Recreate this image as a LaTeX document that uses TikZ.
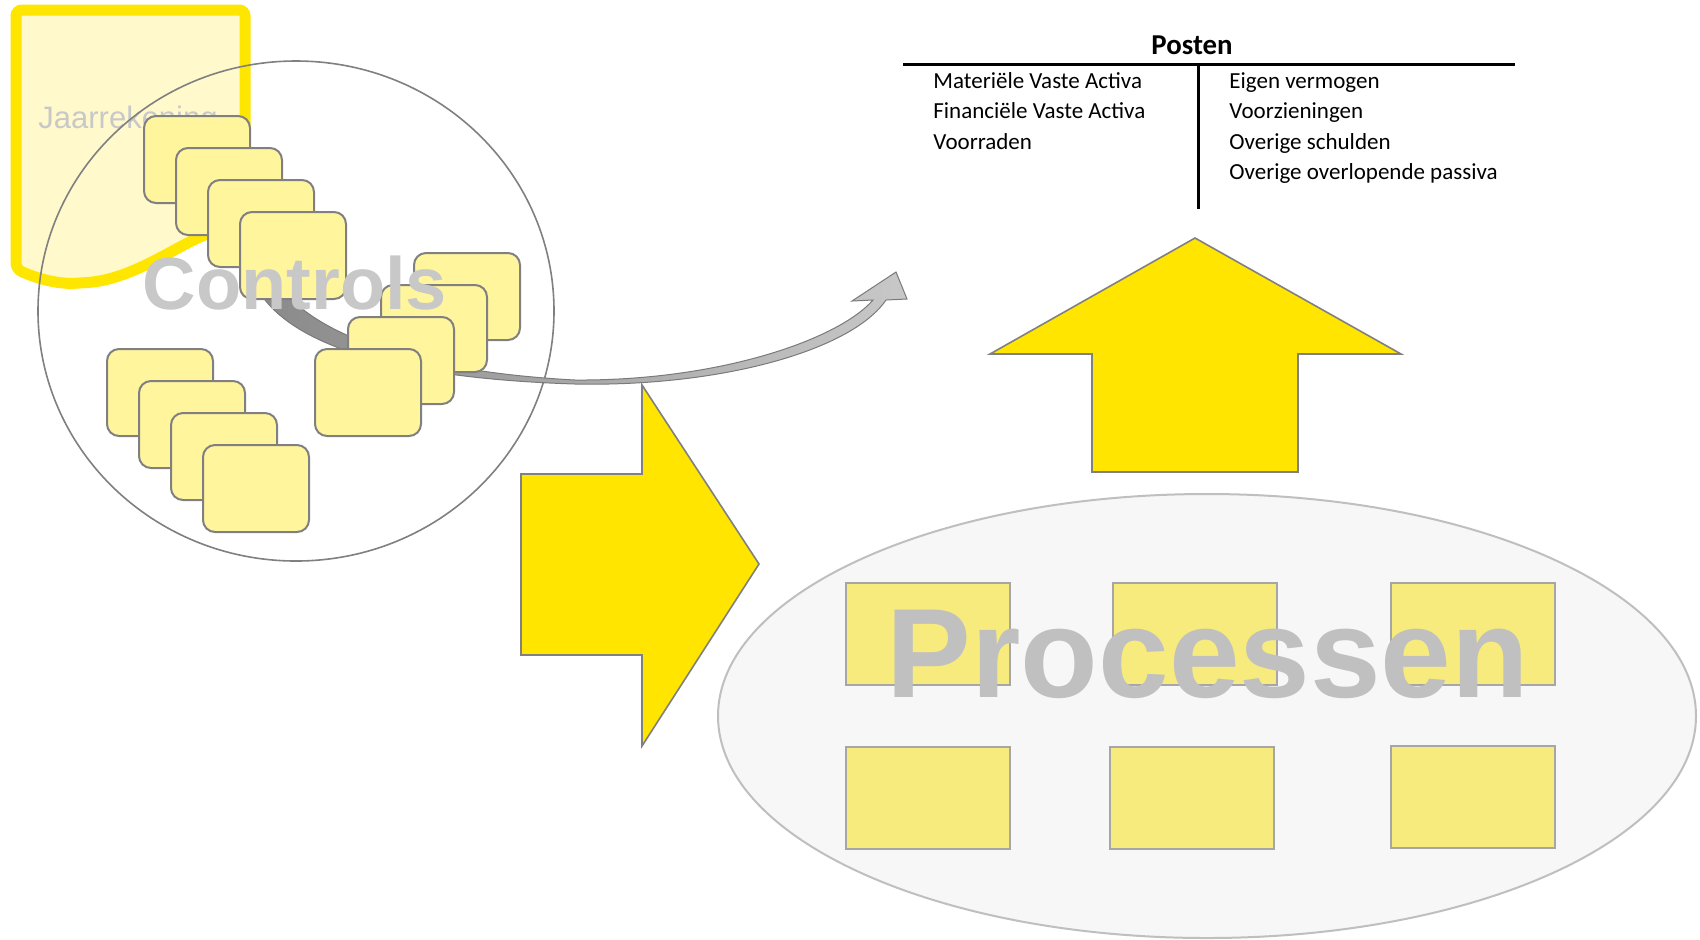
\documentclass[tikz,border=0pt]{standalone}
\usepackage{fontspec}
\setmainfont{Liberation Sans}
\newfontfamily\calfont{Carlito}
\definecolor{docyellow}{HTML}{FFE600}
\definecolor{docfill}{HTML}{FFF9CC}
\definecolor{boxfill}{HTML}{FFF59D}
\definecolor{boxline}{HTML}{808080}
\definecolor{bigyellow}{HTML}{FFE500}
\definecolor{procfill}{HTML}{F7EB7E}
\definecolor{procline}{HTML}{A6A6A6}
\definecolor{ellfill}{HTML}{F7F7F7}
\definecolor{ellline}{HTML}{BFBFBF}
\definecolor{bigtext}{HTML}{C0C0C0}
\definecolor{ctrltext}{HTML}{C8C8C8}
\definecolor{jaartext}{HTML}{C8C8C8}
\definecolor{arrdark}{HTML}{8A8A8A}
\definecolor{arrlight}{HTML}{C8C8C8}
\definecolor{arrline}{HTML}{7A7A7A}
\begin{document}
\begin{tikzpicture}[x=0.5pt,y=-0.5pt,
  ctrlbox/.style={draw=boxline, fill=boxfill, line width=1pt, rounded corners=6pt,
    minimum width=53pt, minimum height=43.5pt, anchor=north west, inner sep=0pt},
  procbox/.style={draw=procline, fill=procfill, line width=1pt,
    minimum width=82pt, minimum height=51pt, anchor=north west, inner sep=0pt},
  blockarrow/.style={draw=boxline, fill=bigyellow, line width=0.8pt},
  tabtext/.style={font=\calfont\fontsize{11.5pt}{13pt}\selectfont, anchor=base west, inner sep=0pt},
  bigword/.style={font=\bfseries, anchor=base, inner sep=0pt}
]
\fill[white] (0,0) rectangle (1700,939);
\useasboundingbox (0,0) rectangle (1700,939);

% Processen ellipse
\draw[draw=ellline, fill=ellfill, line width=1pt] (1207,716) ellipse [x radius=489, y radius=222];
\node[procbox] (r1) at (845,582) {};
\node[procbox] (r2) at (1112,582) {};
\node[procbox] (r3) at (1390,582) {};
\node[procbox] (r4) at (845,746) {};
\node[procbox] (r5) at (1109,746) {};
\node[procbox] (r6) at (1390,745) {};
\node[bigword, text=bigtext, font=\bfseries\fontsize{63.5pt}{70pt}\selectfont] (proc) at (1208,697) {Processen};

% block arrows
\draw[blockarrow] (1195,238) -- (1401,354) -- (1298,354) -- (1298,472) -- (1092,472) -- (1092,354) -- (990,354) -- cycle;
\draw[blockarrow] (521,474) -- (642,474) -- (642,385) -- (759,564) -- (642,746) -- (642,655) -- (521,655) -- cycle;

% Posten table
\node[font=\calfont\bfseries\fontsize{14.4pt}{16pt}\selectfont, anchor=base, inner sep=0pt] (posten) at (1192,54) {Posten};
\coordinate (hl) at (903,64);
\coordinate (hr) at (1515,64);
\coordinate (vt) at (1198,64);
\coordinate (vb) at (1198,209);
\draw[line width=1.5pt] (hl) -- (hr);
\draw[line width=1.5pt] (vt) -- (vb);
\node[tabtext] (l1) at (933,88) {Materiële Vaste Activa};
\node[tabtext] (l2) at (933,118) {Financiële Vaste Activa};
\node[tabtext] (l3) at (933,149) {Voorraden};
\node[tabtext] (p1) at (1229,88) {Eigen vermogen};
\node[tabtext] (p2) at (1229,118) {Voorzieningen};
\node[tabtext] (p3) at (1229,149) {Overige schulden};
\node[tabtext] (p4) at (1229,179) {Overige overlopende passiva};

% Jaarrekening document
\draw[draw=docyellow, fill=docfill, line width=5.5pt, rounded corners=3pt]
  (16,10) -- (16,269) .. controls (40,280) and (60,284) .. (80,283)
  .. controls (130,280) and (170,250) .. (207,234)
  .. controls (222,228) and (235,224) .. (245,222) -- (245,10) -- cycle;
\node[font=\fontsize{15.5pt}{18pt}\selectfont, text=jaartext, anchor=base west, inner sep=0pt] (jaar) at (38,128) {Jaarrekening};

% Controls circle
\draw[draw=boxline, line width=0.8pt] (296,311) ellipse [x radius=258, y radius=250];

% group C
\foreach \i in {0,1,2,3} {
  \node[ctrlbox] (c\i) at ({106+32*\i},{348+32*\i}) {};
}

% curved gray arrow
\shadedraw[left color=arrdark, right color=arrlight, draw=arrline, line width=0.5pt]
  (278,284) .. controls (316,338) and (424,372) .. (575,380)
  .. controls (718,381) and (838,340) .. (873,300)
  -- (852,301) -- (896,272) -- (907,299) -- (886,300)
  .. controls (852,350) and (722,387) .. (575,384)
  .. controls (416,379) and (302,352) .. (262,296) -- cycle;

% group A
\foreach \i in {0,1,2,3} {
  \node[ctrlbox] (a\i) at ({143+32*\i},{115+32*\i}) {};
}
% group B
\foreach \i/\x/\y in {0/413/252, 1/380/284, 2/347/316, 3/314/348} {
  \node[ctrlbox] (b\i) at (\x,\y) {};
}

\node[bigword, text=ctrltext, font=\bfseries\fontsize{37pt}{42pt}\selectfont] (ctrl) at (295,309) {Controls};
\end{tikzpicture}
\end{document}
